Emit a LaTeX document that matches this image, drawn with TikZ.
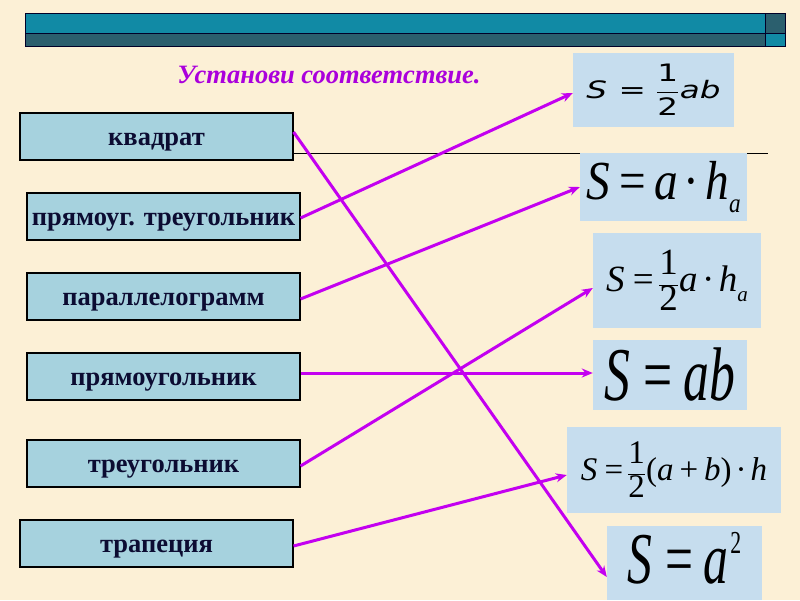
\documentclass[tikz,border=0pt]{standalone}
\usepackage{fontspec}
\usepackage{graphicx}
\setmainfont{Liberation Serif}
\newfontfamily\fsans{DejaVu Sans}
\usetikzlibrary{arrows.meta}
\definecolor{bg}{RGB}{252,240,214}
\definecolor{teal}{RGB}{17,138,165}
\definecolor{darkteal}{RGB}{43,95,110}
\definecolor{hdrline}{RGB}{0,0,40}
\definecolor{lboxc}{RGB}{166,210,222}
\definecolor{rboxc}{RGB}{198,221,238}
\definecolor{navy}{RGB}{12,12,50}
\definecolor{arrc}{RGB}{195,0,240}
\definecolor{titlec}{RGB}{170,0,220}
\newcommand\myfr[2]{$\displaystyle\frac{\hbox{#1}}{\hbox{#2}}$}
\newcommand\mdot{\hspace{0.12em}{\upshape\textperiodcentered}\hspace{0.12em}}
\begin{document}
\begin{tikzpicture}[x=1pt,y=-1pt,
  lbox/.style={draw=black, line width=1.1pt, fill=lboxc, minimum width=273pt,
    minimum height=47pt, inner sep=0pt, text=navy, text depth=0pt, text height=18pt,
    font=\fontsize{26.5}{28}\selectfont\bfseries},
  rbox/.style={fill=rboxc, inner sep=0pt, text=black},
  arr/.style={draw=arrc, line width=3pt, -{Stealth[length=11pt,width=9pt]}},
  hdr/.style={draw=hdrline, line width=0.8pt}]
\fill[bg] (0,0) rectangle (800,600);
\useasboundingbox (0,0) rectangle (800,600);
% header bar
\filldraw[hdr, fill=teal] (25,13) rectangle (765,33);
\filldraw[hdr, fill=darkteal] (25,33) rectangle (765,46);
\filldraw[hdr, fill=darkteal] (765,13) rectangle (785,33);
\filldraw[hdr, fill=teal] (765,33) rectangle (785,46);
% title
\node[text=titlec, font=\fontsize{26.5}{28}\selectfont\bfseries\itshape] (title) at (329,75) {Установи соответствие.};
% left boxes
\node[lbox] (L1) at (156.5,136.5) {квадрат};
\node[lbox] (L2) at (163.5,216.5) {прямоуг. треугольник};
\node[lbox] (L3) at (163.5,296.5) {параллелограмм};
\node[lbox] (L4) at (163.5,376.5) {прямоугольник};
\node[lbox] (L5) at (163.5,463.5) {треугольник};
\node[lbox] (L6) at (156.5,543.5) {трапеция};
% decorative line
\coordinate (lineend) at (768,153);
\draw[black, line width=0.9pt] ([yshift=-16.5pt]L1.east) -- (lineend);
% right boxes
\node[rbox, minimum width=161pt, minimum height=74pt] (R1) at (653.5,90)
  {\scalebox{1.36}[1]{\fsans\fontsize{24}{28}\selectfont\itshape S\hspace{0.35em}\upshape=\hspace{0.3em}\myfr{1}{2}\itshape ab}};
\node[rbox, minimum width=167pt, minimum height=68pt] (R2) at (663.5,187)
  {\scalebox{0.86}[1]{\fontsize{55}{60}\selectfont\itshape S\hspace{0.2em}\upshape=\hspace{0.18em}\itshape a\mdot h\raisebox{-13pt}{\fontsize{27}{28}\selectfont a}}};
\node[rbox, minimum width=168pt, minimum height=95pt] (R3) at (677,280.5)
  {\fontsize{37}{42}\selectfont\itshape S\hspace{0.22em}\upshape=\hspace{0.12em}\myfr{1}{2}\itshape a\mdot h\raisebox{-10pt}{\fontsize{21}{21}\selectfont a}};
\node[rbox, minimum width=154pt, minimum height=70pt] (R4) at (670,375)
  {\scalebox{0.68}[1]{\fontsize{76}{80}\selectfont\itshape S\hspace{0.25em}\upshape=\hspace{0.22em}\itshape ab}};
\node[rbox, minimum width=214pt, minimum height=86pt] (R5) at (674,470)
  {\fontsize{33}{36}\selectfont\itshape S\hspace{0.22em}\upshape=\hspace{0.12em}\myfr{1}{2}(\itshape a\hspace{0.18em}\upshape+\hspace{0.18em}\itshape b\upshape)\mdot\itshape h};
\node[rbox, minimum width=155pt, minimum height=74pt, text height=40pt, text depth=0pt] (R6) at (684.5,563)
  {\scalebox{0.68}[1]{\fontsize{73}{78}\selectfont\itshape S\hspace{0.25em}\upshape=\hspace{0.22em}\itshape a\hspace{0.03em}\raisebox{30pt}{\upshape\fontsize{32}{32}\selectfont 2}}};
% arrows
\draw[arr] ([yshift=4.5pt]L1.east) -- ([yshift=-14pt]R6.west);
\draw[arr] ([yshift=-1.5pt]L2.east) -- ([yshift=-3pt]R1.west);
\draw[arr] ([yshift=-2.5pt]L3.east) -- (R2.west);
\draw[arr] ([yshift=3.5pt]L4.east) -- ([yshift=2pt]R4.west);
\draw[arr] ([yshift=-2.5pt]L5.east) -- ([yshift=-7.5pt]R3.west);
\draw[arr] ([yshift=-2.5pt]L6.east) -- ([yshift=-5pt]R5.west);
\end{tikzpicture}
\end{document}
